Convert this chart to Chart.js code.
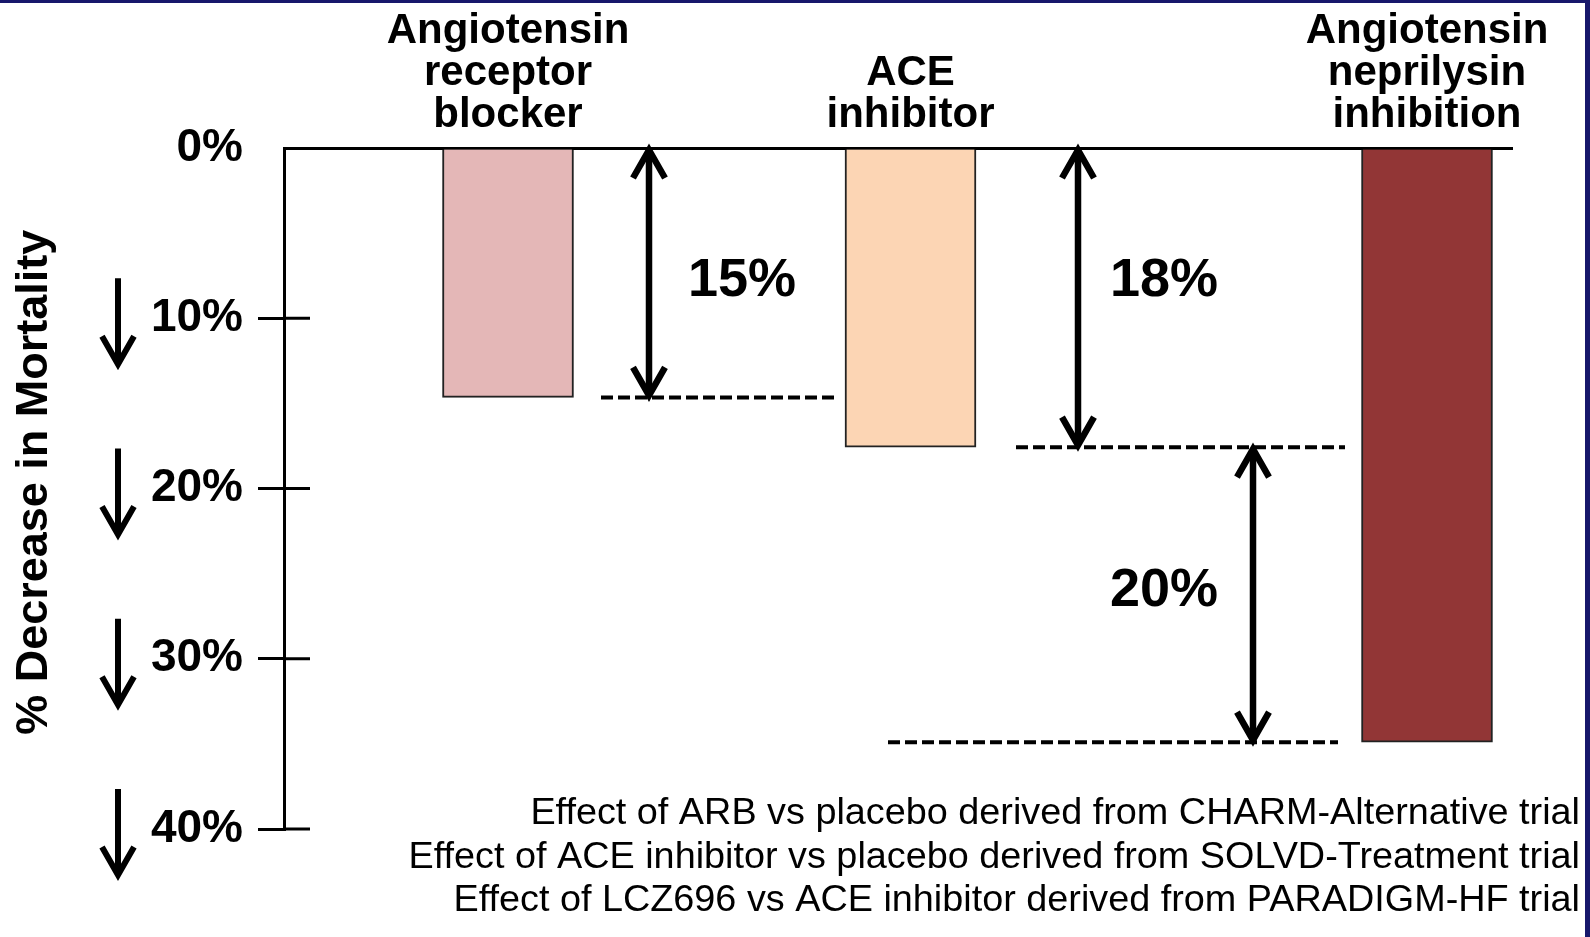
<!DOCTYPE html>
<html lang="en">
<head>
<meta charset="UTF-8" />
<title>% Decrease in Mortality</title>
<script src="https://cdn.jsdelivr.net/npm/chart.js"></script>
<style>
  html, body { margin: 0; padding: 0; background: #fff; }
</style>
</head>
<body>
<canvas id="chart" width="1590" height="937"></canvas>
<script>
  // data
  const treatments = [
    ['Angiotensin', 'receptor', 'blocker'],
    ['ACE', 'inhibitor'],
    ['Angiotensin', 'neprilysin', 'inhibition']
  ];
  const treatmentPos = [2.24, 6.265, 11.43];      // position along the (hidden) x scale
  const mortalityDecrease = [14.65, 17.57, 34.9];  // % decrease in mortality
  const barColors = ['#e4b7b7', '#fcd5b4', '#923636'];
  const yTicks = [0, 10, 20, 30, 40];

  // "gap" annotations between the bars
  const gapLabels = ['15%', '18%', '20%'];
  const gapArrowX = [3.65, 7.94, 9.69];
  const gapFrom = [0, 0, mortalityDecrease[1]];
  const gapTo = [mortalityDecrease[0], mortalityDecrease[1], mortalityDecrease[2]];
  const gapLabelX = [4.58, 8.80, 8.80];
  const gapLabelY = [7.8, 7.8, 26.0];
  const dashY = [mortalityDecrease[0], mortalityDecrease[1], mortalityDecrease[2]];
  const dashFrom = [3.17, 7.32, 6.04];
  const dashTo = [5.54, 10.61, 10.54];

  const footnotes = [
    'Effect of ARB vs placebo derived from CHARM-Alternative trial',
    'Effect of ACE inhibitor vs placebo derived from SOLVD-Treatment trial',
    'Effect of LCZ696 vs ACE inhibitor derived from PARADIGM-HF trial'
  ];

  const FONT = "'Liberation Sans', Arial, sans-serif";
  const NAVY = '#17176b';

  function arrowHead(ctx, x, tipY, dir) {
    // dir = -1 head points up, +1 head points down
    ctx.beginPath();
    ctx.moveTo(x - 16, tipY - dir * 28);
    ctx.lineTo(x, tipY);
    ctx.lineTo(x + 16, tipY - dir * 28);
    ctx.stroke();
  }

  const decor = {
    id: 'decor',
    afterDraw(chart) {
      const ctx = chart.ctx;
      const xs = chart.scales.x, ys = chart.scales.y;
      const area = chart.chartArea;
      ctx.save();
      ctx.strokeStyle = '#000';
      ctx.fillStyle = '#000';

      // tick marks reach into the plot a little
      ctx.lineWidth = 3;
      yTicks.forEach(v => {
        if (v === 0) return;
        const py = ys.getPixelForValue(v);
        ctx.beginPath();
        ctx.moveTo(area.left, py);
        ctx.lineTo(area.left + 26, py);
        ctx.stroke();
      });

      // down arrows beside the tick labels
      ctx.lineWidth = 6;
      ctx.lineCap = 'butt';
      ctx.lineJoin = 'miter';
      yTicks.forEach(v => {
        if (v === 0) return;
        const py = ys.getPixelForValue(v);
        ctx.beginPath();
        ctx.moveTo(118, py - 40);
        ctx.lineTo(118, py + 44);
        ctx.stroke();
        arrowHead(ctx, 118, py + 46, 1);
      });

      // dashed guide lines
      ctx.lineWidth = 4;
      ctx.setLineDash([12, 5]);
      dashY.forEach((v, i) => {
        const py = ys.getPixelForValue(v);
        ctx.beginPath();
        ctx.moveTo(xs.getPixelForValue(dashFrom[i]), py);
        ctx.lineTo(xs.getPixelForValue(dashTo[i]), py);
        ctx.stroke();
      });
      ctx.setLineDash([]);

      // double arrows
      ctx.lineWidth = 6.5;
      gapArrowX.forEach((xv, i) => {
        const px = xs.getPixelForValue(xv);
        const y1 = ys.getPixelForValue(gapFrom[i]) + 2;
        const y2 = ys.getPixelForValue(gapTo[i]) - 2;
        ctx.beginPath();
        ctx.moveTo(px, y1 + 2);
        ctx.lineTo(px, y2 - 2);
        ctx.stroke();
        arrowHead(ctx, px, y1, -1);
        arrowHead(ctx, px, y2, 1);
      });

      // gap labels
      ctx.font = 'bold 54px ' + FONT;
      ctx.textAlign = 'center';
      ctx.textBaseline = 'middle';
      gapLabels.forEach((t, i) => {
        ctx.fillText(t, xs.getPixelForValue(gapLabelX[i]), ys.getPixelForValue(gapLabelY[i]));
      });

      // footnotes
      ctx.font = '37.8px ' + FONT;
      ctx.textAlign = 'right';
      footnotes.forEach((t, i) => {
        ctx.fillText(t, 1580, 814 + i * 43.5);
      });

      // slide frame
      ctx.fillStyle = NAVY;
      ctx.fillRect(0, 0, chart.width, 3);
      ctx.fillRect(chart.width - 5, 0, 5, chart.height);
      ctx.restore();
    }
  };

  new Chart(document.getElementById('chart'), {
    type: 'bar',
    data: {
      datasets: [{
        data: treatmentPos.map((p, i) => ({ x: p, y: mortalityDecrease[i] })),
        backgroundColor: barColors,
        borderColor: '#222',
        borderWidth: 2,
        barThickness: 131
      }]
    },
    options: {
      responsive: false,
      animation: false,
      layout: { padding: { top: 8, right: 78, bottom: 108, left: 0 } },
      plugins: { legend: { display: false }, tooltip: { enabled: false } },
      scales: {
        x: {
          type: 'linear',
          position: 'top',
          offset: false,
          min: 0,
          max: 12.28,
          afterFit: s => { s.height = 140; },
          afterBuildTicks: axis => { axis.ticks = treatmentPos.map(v => ({ value: v })); },
          grid: { display: false, drawTicks: false, offset: false },
          border: { display: true, color: '#000', width: 3 },
          ticks: {
            autoSkip: false,
            maxRotation: 0,
            padding: 12,
            color: '#000',
            font: { family: FONT, size: 42, weight: 'bold', lineHeight: 1.0 },
            callback: (v, i) => treatments[i]
          }
        },
        y: {
          type: 'linear',
          reverse: true,
          min: 0,
          max: 40,
          afterFit: s => { s.width = 284; },
          afterBuildTicks: axis => { axis.ticks = yTicks.map(v => ({ value: v })); },
          grid: {
            drawOnChartArea: false,
            drawTicks: true,
            tickLength: 26,
            lineWidth: 3,
            color: c => (c.tick && c.tick.value === 0) ? 'rgba(0,0,0,0)' : '#000'
          },
          border: { display: true, color: '#000', width: 3 },
          ticks: {
            padding: 15,
            color: '#000',
            font: { family: FONT, size: 46, weight: 'bold' },
            callback: v => v + '%'
          },
          title: {
            display: true,
            text: ' % Decrease in Mortality',
            color: '#000',
            padding: { top: 8, bottom: 0 },
            font: { family: FONT, size: 45, weight: 'bold', lineHeight: 1.2 }
          }
        }
      }
    },
    plugins: [decor]
  });
</script>
</body>
</html>
